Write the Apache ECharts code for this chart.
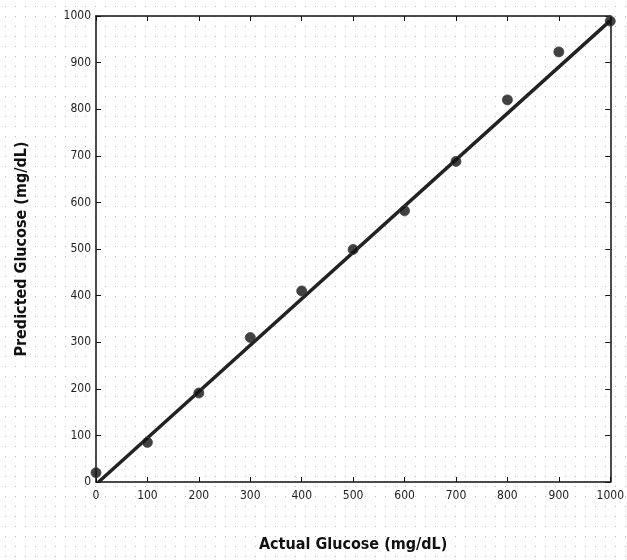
<!DOCTYPE html>
<html><head><meta charset="utf-8">
<script src="https://cdn.jsdelivr.net/npm/echarts@6/dist/echarts.min.js"></script>
<style>html,body{margin:0;padding:0;background:#fff}#c{width:627px;height:560px}</style>
</head><body><div id="c"></div>
<script>
var actual = [0, 100, 200, 300, 400, 500, 600, 700, 800, 900, 1000];
var predicted = [20, 85, 191, 310, 410, 499, 582, 688, 820, 923, 989];
var fitX = [5, 1000];
var fitY = [0, 990];
var ticks = [0, 100, 200, 300, 400, 500, 600, 700, 800, 900, 1000];

var pc = document.createElement('canvas');
pc.width = 10; pc.height = 10;
var g = pc.getContext('2d');
g.fillStyle = '#fff'; g.fillRect(0,0,10,10);
g.fillStyle = '#b8b8b8'; g.fillRect(5,6,1,1);

var chart = echarts.init(document.getElementById('c'));
var lbl = {color:'#222', fontFamily:'DejaVu Sans Condensed, DejaVu Sans', fontSize:12};
var fmt = function(v){return ticks.indexOf(v)>=0?String(v):'';};
var nameStyle = {fontFamily:'Liberation Sans Narrow, DejaVu Sans Condensed', fontWeight:'bold', fontSize:16, color:'#111'};
var axLine = {onZero:false, lineStyle:{color:'#111', width:1.5}};
var tick = {inside:true, length:5, lineStyle:{color:'#111'}};
chart.setOption({
  animation:false,
  backgroundColor:{image:pc, repeat:'repeat'},
  grid:{left:96, right:16, top:16, bottom:78},
  xAxis:[{type:'value', min:0, max:1000, interval:100, position:'bottom',
    name:'Actual Glucose (mg/dL)', nameLocation:'middle', nameGap:55, nameTextStyle:nameStyle,
    axisLine:axLine, axisTick:tick,
    axisLabel:Object.assign({margin:8, formatter:fmt}, lbl),
    splitLine:{show:false}},
   {type:'value', min:0, max:1000, interval:100, position:'top',
    axisLine:axLine, axisTick:tick, axisLabel:{show:false}, splitLine:{show:false}}],
  yAxis:[{type:'value', min:0, max:1000, interval:100, position:'left',
    name:'Predicted Glucose (mg/dL)', nameLocation:'middle', nameGap:66, nameTextStyle:nameStyle,
    axisLine:axLine, axisTick:tick,
    axisLabel:Object.assign({margin:5, formatter:fmt}, lbl),
    splitLine:{show:false}},
   {type:'value', min:0, max:1000, interval:100, position:'right',
    axisLine:axLine, axisTick:tick, axisLabel:{show:false}, splitLine:{show:false}}],
  series:[
    {type:'line', data:fitX.map(function(x,i){return [x, fitY[i]];}), symbol:'none',
     lineStyle:{color:'#222', width:3.5}, z:2},
    {type:'scatter', data:actual.map(function(x,i){return [x, predicted[i]];}), symbol:'circle', symbolSize:10,
     itemStyle:{color:'#111', borderColor:'#444', borderWidth:1}, z:3}
  ]
});
</script></body></html>
